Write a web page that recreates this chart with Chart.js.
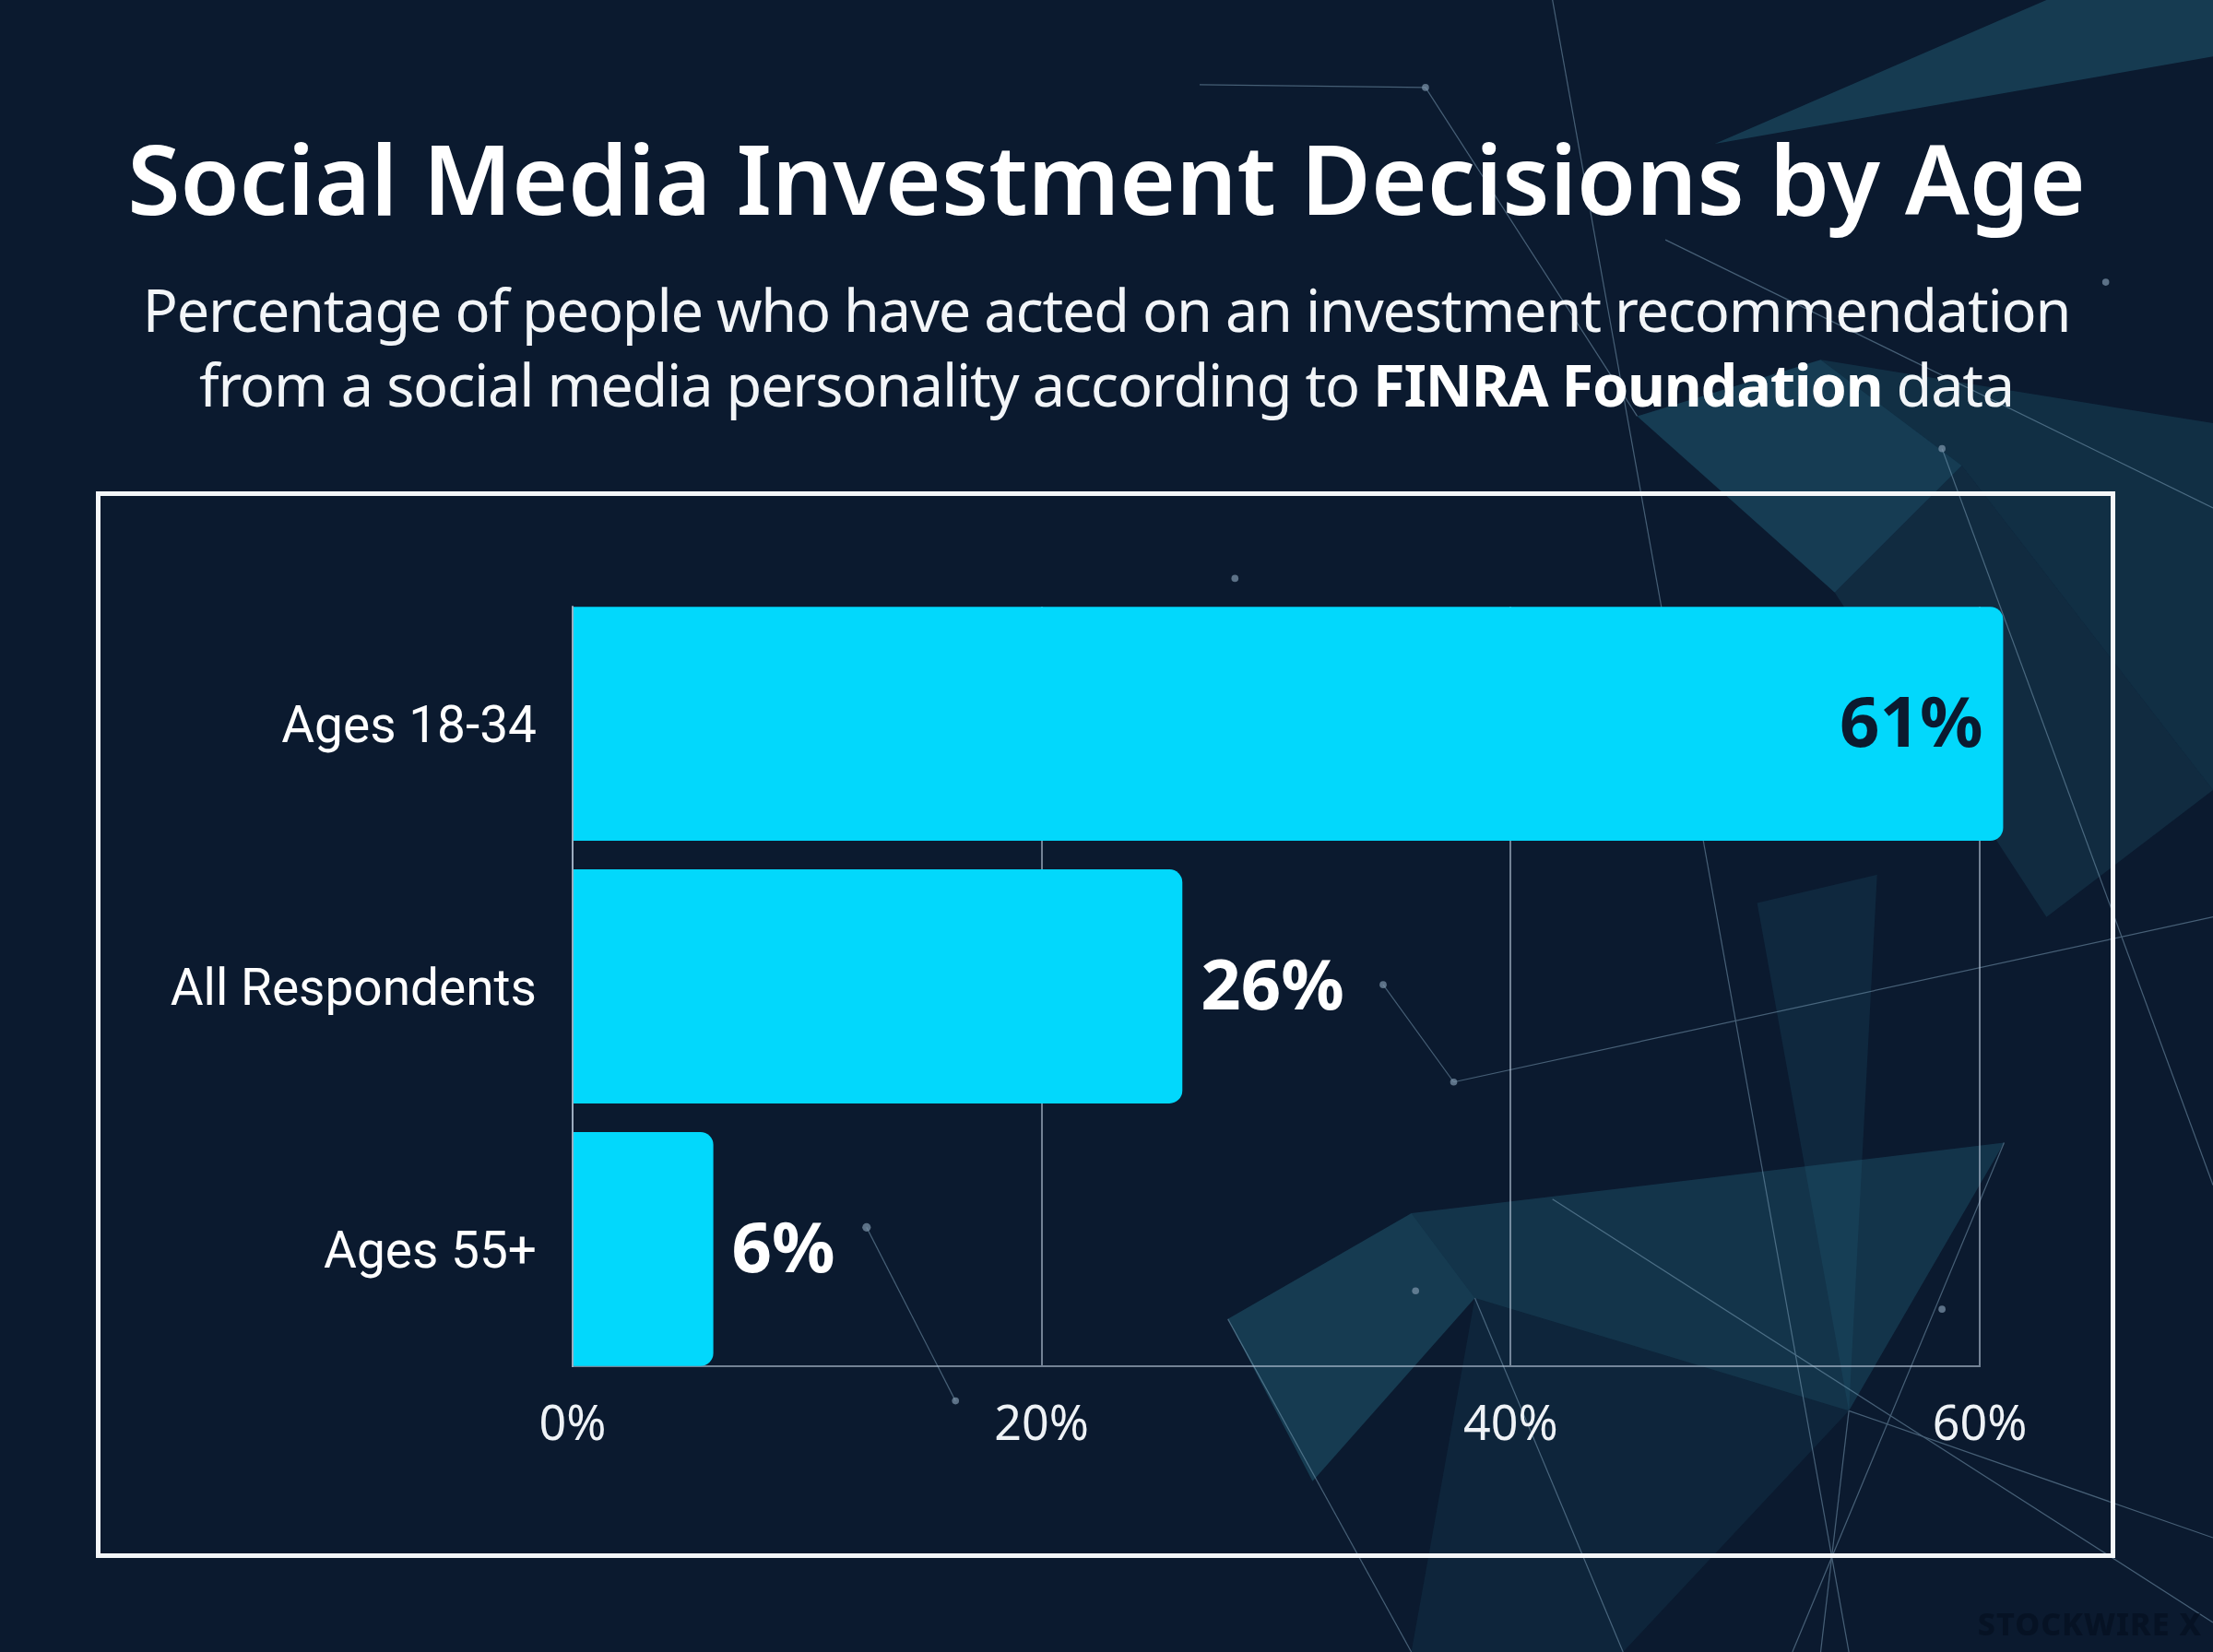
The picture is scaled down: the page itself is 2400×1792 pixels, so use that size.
<!DOCTYPE html>
<html>
<head>
<meta charset="utf-8">
<script src="https://cdn.jsdelivr.net/npm/chart.js@4.4.1/dist/chart.umd.min.js"></script>
<style>
  html, body { margin: 0; padding: 0; }
  body { width: 2400px; height: 1792px; background: #0b1a2f; position: relative; overflow: hidden; font-family: "Noto Sans", sans-serif; }
  #bg, #wrap { position: absolute; left: 0; top: 0; width: 2400px; height: 1792px; }
  #title { position: absolute; left: 0; top: 141px; width: 2400px; text-align: center; color: #fff; font-size: 104px; font-weight: 600; line-height: 1; }
  #sub { position: absolute; left: 0; top: 295px; width: 2400px; text-align: center; color: #f2f5f8; font-size: 63px; letter-spacing: -1.2px; line-height: 81px; }
  #sub b { font-weight: 700; color: #fff; }
  #frame { position: absolute; left: 104px; top: 533px; width: 2190px; height: 1157px; border: 5px solid #f4f6f8; box-sizing: border-box; }
  #mark { position: absolute; right: 12px; bottom: 8px; font: 800 34px "Noto Sans"; color: rgba(3, 12, 28, 0.55); letter-spacing: 1px; }
</style>
</head>
<body>
<!-- background network decoration -->
<svg id="bg" viewBox="0 0 1568 1171" preserveAspectRatio="none">
  <g fill="#2a7a92">
    <polygon points="1215,102 1450,0 1568,0 1568,40" opacity="0.35"/>
    <polygon points="1160,295 1290,255 1390,330 1300,420" opacity="0.36"/>
    <polygon points="1290,255 1568,300 1568,560 1390,330" opacity="0.22"/>
    <polygon points="1300,420 1390,330 1568,560 1450,650" opacity="0.18"/>
    <polygon points="1245,640 1330,620 1310,1000" opacity="0.15"/>
    <polygon points="870,935 1000,860 1045,920 930,1050" opacity="0.35"/>
    <polygon points="1000,860 1420,810 1310,1000 1045,920" opacity="0.28"/>
    <polygon points="1045,920 1310,1000 1150,1171 1000,1171" opacity="0.12"/>
  </g>
  <g stroke="#8fb3cc" stroke-width="0.8" fill="none" opacity="0.45">
    <line x1="1100" y1="0" x2="1310" y2="1171"/>
    <line x1="1180" y1="170" x2="1568" y2="360"/>
    <line x1="1100" y1="850" x2="1568" y2="1150"/>
    <line x1="614" y1="870" x2="677" y2="993"/>
    <line x1="980" y1="698" x2="1030" y2="767"/>
    <line x1="1030" y1="767" x2="1568" y2="650"/>
    <line x1="1045" y1="920" x2="1150" y2="1171"/>
    <line x1="1310" y1="1000" x2="1290" y2="1171"/>
    <line x1="1310" y1="1000" x2="1568" y2="1090"/>
    <line x1="1376" y1="318" x2="1568" y2="840"/>
    <line x1="850" y1="60" x2="1010" y2="62"/>
    <line x1="1010" y1="62" x2="1160" y2="295"/>
    <line x1="1420" y1="810" x2="1270" y2="1171"/>
    <line x1="870" y1="935" x2="1000" y2="1171"/>
  </g>
  <g fill="#7f97ad" opacity="0.7">
    <circle cx="875" cy="410" r="2.5"/><circle cx="1376" cy="318" r="2.5"/>
    <circle cx="1030" cy="767" r="2.5"/><circle cx="980" cy="698" r="2.5"/>
    <circle cx="614" cy="870" r="3"/><circle cx="677" cy="993" r="2.5"/>
    <circle cx="1003" cy="915" r="2.5"/><circle cx="1376" cy="928" r="2.5"/>
    <circle cx="1492" cy="200" r="2.5"/><circle cx="1010" cy="62" r="2.5"/>
  </g>
</svg>

<div id="title">Social Media Investment Decisions by Age</div>
<div id="sub">Percentage of people who have acted on an investment recommendation<br>from a social media personality according to <b>FINRA Foundation</b> data</div>
<div id="frame"></div>
<div id="wrap"><canvas id="chart" width="2400" height="1792"></canvas></div>
<div id="mark">STOCKWIRE X</div>

<script>
// values
const categories = ['Ages 18-34', 'All Respondents', 'Ages 55+'];
const shares = [61, 26, 6];
const xTicks = [0, 20, 40, 60];

const gridColor = 'rgba(185, 200, 218, 0.6)';
const barColor = '#02d8fc';

// percentage printed at the end of each bar
const valueLabels = {
  id: 'valueLabels',
  afterDatasetsDraw(chart) {
    const ctx = chart.ctx;
    const meta = chart.getDatasetMeta(0);
    ctx.save();
    ctx.font = '700 76px "Noto Sans"';
    ctx.textBaseline = 'middle';
    meta.data.forEach((bar, i) => {
      const txt = shares[i] + '%';
      if (shares[i] > 50) {
        ctx.fillStyle = '#0b1a2f';
        ctx.textAlign = 'right';
        ctx.fillText(txt, bar.x - 22, bar.y + 3);
      } else {
        ctx.fillStyle = '#ffffff';
        ctx.textAlign = 'left';
        ctx.fillText(txt, bar.x + 20, bar.y + 3);
      }
    });
    ctx.restore();
  }
};

new Chart(document.getElementById('chart').getContext('2d'), {
  type: 'bar',
  data: {
    datasets: [{
      data: shares.map((v, i) => ({ x: v, y: i })),
      backgroundColor: barColor,
      borderRadius: 14,
      borderSkipped: 'start',
      categoryPercentage: 1,
      barPercentage: 0.891,
      clip: false
    }]
  },
  options: {
    indexAxis: 'y',
    responsive: false,
    devicePixelRatio: 1,
    animation: false,
    layout: { padding: { top: 658, right: 253, left: 0, bottom: 0 } },
    plugins: { legend: { display: false }, tooltip: { enabled: false } },
    scales: {
      x: {
        min: 0, max: 60,
        afterBuildTicks: s => { s.ticks = xTicks.map(v => ({ value: v })); },
        afterFit: s => { s.height = 310; },
        grid: { color: gridColor, lineWidth: 2, drawTicks: false },
        border: { display: true, color: gridColor, width: 2 },
        ticks: { callback: v => v + '%', color: '#eef2f6', font: { family: 'Noto Sans', size: 52 }, padding: 34, maxRotation: 0 }
      },
      y: {
        type: 'linear', reverse: true, min: -0.446, max: 2.446,
        offset: false,
        afterBuildTicks: s => { s.ticks = categories.map((c, i) => ({ value: i })); },
        afterFit: s => { s.width = 621; },
        grid: { display: false, drawTicks: false, offset: false },
        border: { display: true, color: gridColor, width: 2 },
        ticks: { callback: v => categories[v], autoSkip: false, color: '#ffffff', font: { family: 'Roboto', size: 55 }, padding: 39, labelOffset: 6 }
      }
    }
  },
  plugins: [valueLabels]
});
</script>
</body>
</html>
